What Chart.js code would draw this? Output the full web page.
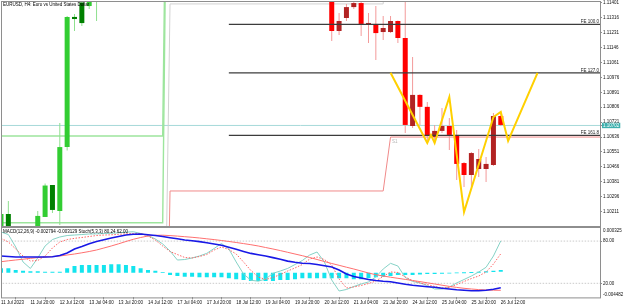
<!DOCTYPE html>
<html>
<head>
<meta charset="utf-8">
<script src="https://cdn.jsdelivr.net/npm/chart.js@4.4.1/dist/chart.umd.min.js"></script>
<style>
html,body{margin:0;padding:0;background:#ffffff;}
body{width:625px;height:307px;position:relative;overflow:hidden;}
canvas{position:absolute;left:0;}
#main{top:0;}
#pane{top:227px;}
</style>
</head>
<body>
<canvas id="main" width="625" height="227"></canvas>
<canvas id="pane" width="625" height="80"></canvas>
<script>
// ---------- DATA ----------
const symbolTitle = 'EURUSD, H4: Euro vs United States Dollar';
const paneTitle = 'MACD(12,26,9) -0.002794 -0.003129 Stoch(5,3,3) 80.24 62.00';
const timeLabels = ['11 Jul 2023','11 Jul 20:00','12 Jul 12:00','13 Jul 04:00','13 Jul 20:00','14 Jul 12:00',
  '17 Jul 04:00','17 Jul 20:00','18 Jul 12:00','19 Jul 04:00','19 Jul 20:00','20 Jul 12:00',
  '21 Jul 04:00','21 Jul 20:00','24 Jul 12:00','25 Jul 04:00','25 Jul 20:00','26 Jul 12:00'];
const priceTicks = [1.11401,1.11316,1.11231,1.11146,1.11061,1.10976,1.10891,1.10806,1.10721,1.10636,1.10551,1.10466,1.10381,1.10296,1.10211];
const priceMin = 1.101239, priceMax = 1.114107;
const bidPrice = 1.10702;

const opens  = [1.10110,1.10198,1.10110,1.10050,1.10000,1.10080,1.10181,1.10363,1.10215,1.10579,
  1.11320,1.11402,1.11382,1.11405,1.1148,1.1158,1.1176,1.1200,1.1210,1.1220,
  1.1226,1.1230,1.1228,1.1232,1.1235,1.1222,1.1215,1.1230,1.1225,1.1228,
  1.1245,1.1262,1.1255,1.1238,1.1225,1.1212,1.1220,1.1210,1.1198,1.1205,
  1.1195,1.1185,1.1168,1.1158,1.1155,1.11480,1.11240,1.11314,1.11376,1.11399,
  1.11280,1.11280,1.11234,1.11234,1.11297,1.11200,1.10699,1.10876,1.10808,1.10636,
  1.10671,1.10699,1.10648,1.10488,1.10420,1.10454,1.10454,1.10477,1.10756];
const highs  = [1.10198,1.10272,1.10118,1.10100,1.10115,1.10215,1.10372,1.10363,1.10716,1.11325,
  1.11337,1.11420,1.11460,1.11500,1.1162,1.1180,1.1205,1.1215,1.1225,1.1235,
  1.1240,1.1245,1.1236,1.1240,1.1242,1.1230,1.1235,1.1238,1.1232,1.1250,
  1.1270,1.1276,1.1262,1.1245,1.1232,1.1225,1.1228,1.1215,1.1212,1.1210,
  1.1205,1.1190,1.1175,1.1165,1.1160,1.11500,1.11342,1.11394,1.11416,1.11405,
  1.11342,1.11382,1.11325,1.11325,1.11300,1.11440,1.11092,1.10880,1.10836,1.10705,
  1.10802,1.10745,1.10676,1.10494,1.10551,1.10568,1.10523,1.10773,1.10773];
const lows   = [1.10100,1.10090,1.09980,1.09950,1.09960,1.10070,1.10181,1.10204,1.10135,1.10559,
  1.11240,1.11268,1.11365,1.11297,1.1144,1.1155,1.1172,1.1190,1.1198,1.1212,
  1.1218,1.1222,1.1220,1.1225,1.1218,1.1210,1.1212,1.1220,1.1218,1.1224,
  1.1240,1.1248,1.1232,1.1220,1.1205,1.1200,1.1205,1.1190,1.1185,1.1190,
  1.1180,1.1160,1.1150,1.1146,1.1143,1.11183,1.11217,1.11297,1.11365,1.11211,
  1.11172,1.11075,1.11189,1.11228,1.11172,1.10659,1.10688,1.10705,1.10602,1.10602,
  1.10659,1.10562,1.10392,1.10352,1.10352,1.10409,1.10380,1.10471,1.10699];
const closes = [1.10198,1.10110,1.10050,1.10000,1.10080,1.10187,1.10360,1.10221,1.10579,1.11320,
  1.11308,1.11285,1.11440,1.11480,1.1158,1.1176,1.1200,1.1210,1.1220,1.1226,
  1.1230,1.1228,1.1232,1.1235,1.1222,1.1215,1.1230,1.1225,1.1228,1.1245,
  1.1262,1.1255,1.1238,1.1225,1.1212,1.1220,1.1210,1.1198,1.1205,1.1195,
  1.1185,1.1168,1.1158,1.1155,1.1148,1.11240,1.11297,1.11376,1.11399,1.11280,
  1.11285,1.11228,1.11257,1.11297,1.11200,1.10705,1.10876,1.10808,1.10642,1.10671,
  1.10699,1.10648,1.10483,1.10420,1.10545,1.10511,1.10483,1.10756,1.10705];
const trendTurn = 23; // bars before this index are drawn in the up-trend (green) palette

// support / resistance step lines
const r1Bars = [22, 23, 52, 53];           const r1Prices = [1.0861, 1.11394, 1.11394, 1.1250];
const s1Bars = [22, 23, 52, 53, 90];       const s1Prices = [1.0800, 1.10329, 1.10329, 1.10636, 1.10636];
const gHighBars = [-1, 22, 23];            const gHighPrices = [1.10642, 1.10642, 1.1400];
const gLowBars = [-1, 22, 23];             const gLowPrices = [1.10148, 1.10148, 1.1400];

// Fibonacci expansion
const feLevels = [1.11278, 1.11002, 1.10646];
const feNames = ['FE 100.0', 'FE 127.0', 'FE 161.8'];
const feStartBar = 31;

// yellow pattern
const zigBars = [53, 58, 58.5, 59, 61, 63, 67, 68, 69, 73];
const zigPrices = [1.11002, 1.10602, 1.10648, 1.10602, 1.10864, 1.10209, 1.10750, 1.10779, 1.10614, 1.11002];

// indicator pane
const macdMax = 0.000325, macdMin = -0.004482;
const stochLevels = [80, 20];
const macdBlue = [-0.001655,-0.001689,-0.001723,-0.001723,-0.001723,-0.001723,-0.001723,-0.001703,-0.001621,-0.001450,
  -0.001177,-0.001006,-0.000815,-0.000665,-0.000549,-0.000426,-0.000324,-0.000221,-0.000167,-0.000153,
  -0.000208,-0.000255,-0.000324,-0.000406,-0.000481,-0.000563,-0.000617,-0.000672,-0.000754,-0.000836,
  -0.000925,-0.001054,-0.001198,-0.001341,-0.001478,-0.001566,-0.001655,-0.001764,-0.001880,-0.002003,
  -0.002085,-0.002147,-0.002167,-0.002236,-0.002324,-0.002406,-0.002611,-0.002884,-0.003055,-0.003157,
  -0.003260,-0.003328,-0.003383,-0.003417,-0.003499,-0.003587,-0.003656,-0.003704,-0.003751,-0.003792,
  -0.003854,-0.003908,-0.003963,-0.003997,-0.004024,-0.004024,-0.003997,-0.003929,-0.003826];
const macdRed = [-0.002044,-0.001983,-0.001928,-0.001874,-0.001819,-0.001764,-0.001723,-0.001696,-0.001655,-0.001587,
  -0.001519,-0.001437,-0.001348,-0.001245,-0.001109,-0.000972,-0.000822,-0.000665,-0.000515,-0.000392,
  -0.000290,-0.000242,-0.000235,-0.000262,-0.000296,-0.000337,-0.000378,-0.000426,-0.000481,-0.000535,
  -0.000597,-0.000665,-0.000733,-0.000808,-0.000884,-0.000972,-0.001075,-0.001177,-0.001286,-0.001402,
  -0.001519,-0.001635,-0.001758,-0.001894,-0.002031,-0.002167,-0.002290,-0.002420,-0.002543,-0.002679,
  -0.002816,-0.002932,-0.003021,-0.003103,-0.003178,-0.003253,-0.003328,-0.003403,-0.003485,-0.003567,
  -0.003649,-0.003731,-0.003799,-0.003861,-0.003908,-0.003949,-0.003977,-0.003990,-0.003997];
const histTop = [-0.002495,-0.002495,-0.002611,-0.002659,-0.002700,-0.002700,-0.002727,-0.002727,-0.002727,-0.002495,
  -0.002338,-0.002270,-0.002270,-0.002270,-0.002270,-0.002222,-0.002222,-0.002270,-0.002338,-0.002495,
  -0.002611,-0.002659,-0.002768,-0.002794,-0.002794,-0.002794,-0.002794,-0.002794,-0.002794,-0.002794,
  -0.002794,-0.002794,-0.002794,-0.002794,-0.002794,-0.002794,-0.002794,-0.002794,-0.002794,-0.002794,
  -0.002794,-0.002794,-0.002794,-0.002794,-0.002794,-0.002794,-0.002794,-0.002794,-0.002794,-0.002794,
  -0.002794,-0.002794,-0.002794,-0.002794,-0.002794,-0.002794,-0.002794,-0.002794,-0.002794,-0.002794,
  -0.002794,-0.002794,-0.002782,-0.002768,-0.002748,-0.002727,-0.002700,-0.002659,-0.002611];
const histBottom = [-0.002794,-0.002794,-0.002794,-0.002794,-0.002794,-0.002794,-0.002794,-0.002794,-0.002794,-0.002794,
  -0.002794,-0.002794,-0.002794,-0.002794,-0.002794,-0.002794,-0.002794,-0.002794,-0.002794,-0.002794,
  -0.002794,-0.002794,-0.002816,-0.002952,-0.003021,-0.003069,-0.003069,-0.003110,-0.003110,-0.003110,
  -0.003110,-0.003178,-0.003246,-0.003294,-0.003362,-0.003362,-0.003362,-0.003362,-0.003294,-0.003294,
  -0.003246,-0.003178,-0.003178,-0.003178,-0.003178,-0.003178,-0.003178,-0.003178,-0.003246,-0.003246,
  -0.003178,-0.003110,-0.003069,-0.003021,-0.002952,-0.002952,-0.002952,-0.002918,-0.002884,-0.002884,
  -0.002864,-0.002850,-0.002836,-0.002836,-0.002816,-0.002794,-0.002782,-0.002748,-0.002727];
const stochMain = [92.9,89.3,71.6,50.3,41.1,56.0,73.0,82.2,85.8,87.9,88.6,89.3,90.1,90.3,90.8,91.1,91.8,92.6,93.3,90.8,
  87.9,83.0,75.9,65.9,53.1,53.8,56.0,58.8,62.6,69.5,76.6,68.8,50.3,33.2,24.4,23.0,26.1,34.2,37.5,41.1,
  46.7,52.4,60.2,64.5,50.3,24.7,9.1,11.2,15.5,19.0,21.9,29.0,40.3,48.4,44.6,28.3,22.6,20.5,16.9,11.9,
  11.9,14.8,20.5,25.4,30.4,36.1,42.8,58.8,80.24];
const stochSignal = [83.9,78.7,68.8,58.8,51.7,52.4,58.8,70.2,78.7,82.2,83.9,85.1,86.5,87.9,88.6,88.9,89.6,90.3,90.9,90.8,
  87.2,81.5,73.0,65.2,60.9,56.7,56.0,58.1,60.9,67.3,71.6,68.0,61.6,50.3,38.2,29.0,25.4,28.3,32.5,37.5,
  41.8,46.7,54.5,57.4,53.8,46.0,26.1,13.4,14.8,16.9,19.7,23.3,29.7,36.1,35.4,29.0,24.0,20.5,18.3,15.5,
  13.4,14.1,18.3,22.6,26.8,30.4,36.1,47.4,62.0];

// ---------- RENDERING ----------
const FF = '"Liberation Sans", Arial, sans-serif';
const FS = 4.5;
const visibleBars = 81.5;
const bars = closes.map((_, i) => i);
const zip = (xs, ys) => xs.map((x, i) => ({x, y: ys[i]}));

function bodyColor(i) {
  const bull = closes[i] >= opens[i];
  if (i < trendTurn) return bull ? '#32cd32' : '#008000';
  return bull ? '#b22222' : '#ff0000';
}
function wickColor(i) { return i < trendTurn ? '#8fe08f' : '#f39a9a'; }

function lineDS(data, color, width, order, extra) {
  return Object.assign({type: 'line', data, borderColor: color, borderWidth: width, pointRadius: 0,
    fill: false, tension: 0, order, spanGaps: true}, extra || {});
}

const baseOpts = {
  responsive: false, animation: false, devicePixelRatio: 1, events: [],
  plugins: {legend: {display: false}, tooltip: {enabled: false}, title: {display: false}}
};

function borderPlugin(id, topOffset, bottomOffset) {
  return {
    id,
    afterDraw(chart) {
      const {ctx, chartArea: a} = chart;
      ctx.save();
      ctx.strokeStyle = '#8e8e8e';
      ctx.lineWidth = 1;
      ctx.strokeRect(1.5, a.top + topOffset, 599, a.bottom - a.top + bottomOffset);
      ctx.restore();
    }
  };
}

const mainDeco = {
  id: 'mainDeco',
  afterDatasetsDraw(chart) {
    const {ctx, chartArea: a, scales: {x, y}} = chart;
    ctx.save();
    ctx.font = `${FS}px ${FF}`;
    ctx.fillStyle = '#222';
    ctx.textAlign = 'right';
    ctx.textBaseline = 'alphabetic';
    feLevels.forEach((v, i) => ctx.fillText(feNames[i], a.right - 1, y.getPixelForValue(v) - 1));
    ctx.fillStyle = '#b5b5b5';
    ctx.textAlign = 'left';
    ctx.textBaseline = 'top';
    ctx.fillText('S1', x.getPixelForValue(s1Bars[3]) + 1.5, y.getPixelForValue(s1Prices[3]) + 2.5);
    ctx.fillStyle = '#000';
    ctx.textBaseline = 'middle';
    ctx.fillText(symbolTitle, 3, 4.5);
    ctx.restore();
  }
};

new Chart(document.getElementById('main'), {
  type: 'line',
  data: {datasets: [
    lineDS([{x: -1, y: bidPrice}, {x: 90, y: bidPrice}], '#a6d9d9', 1, 30),
    lineDS(zip(gHighBars, gHighPrices), '#9de59d', 1.4, 29),
    lineDS(zip(gLowBars, gLowPrices), '#9de59d', 1.4, 29),
    lineDS(zip(r1Bars, r1Prices), '#d2d2d2', 1, 28),
    lineDS(zip(s1Bars, s1Prices), '#f08a8a', 1, 28),
    {type: 'bar', data: bars.map(i => ({x: i, y: [lows[i], highs[i]]})), backgroundColor: bars.map(wickColor),
      maxBarThickness: 1, grouped: false, order: 20, inflateAmount: 0, borderWidth: 0},
    {type: 'bar', data: bars.map(i => ({x: i, y: [opens[i], closes[i]]})), backgroundColor: bars.map(bodyColor),
      maxBarThickness: 5, minBarLength: 1, grouped: false, order: 19, inflateAmount: 0, borderWidth: 0},
    ...feLevels.map(v => lineDS([{x: feStartBar, y: v}, {x: 90, y: v}], '#3c3c3c', 1.3, 5)),
    lineDS(zip(zigBars, zigPrices), '#ffd000', 2, 1)
  ]},
  options: Object.assign({}, baseOpts, {
    layout: {padding: {left: 1, top: 1, right: 0, bottom: 0}},
    scales: {
      x: {type: 'linear', min: 0, max: visibleBars, offset: false, display: false},
      y: {type: 'linear', position: 'right', min: priceMin, max: priceMax,
        afterBuildTicks: s => { s.ticks = priceTicks.map(v => ({value: v})).concat([{value: bidPrice}]); },
        afterFit: s => { s.width = 25; s.paddingTop = 0; s.paddingBottom = 0; },
        ticks: {autoSkip: false, padding: 1, font: {family: FF, size: FS},
          color: c => (c.tick && c.tick.value === bidPrice) ? '#ffffff' : '#111111',
          showLabelBackdrop: c => !!(c.tick && c.tick.value === bidPrice),
          backdropColor: '#3fb0ae', backdropPadding: {left: 1, right: 1, top: 0, bottom: 0},
          callback: v => v.toFixed(5)},
        grid: {drawOnChartArea: false, drawTicks: true, tickLength: 2, tickColor: '#8e8e8e'},
        border: {display: false}}
    }
  }),
  plugins: [mainDeco, borderPlugin('mainBorder', 0.5, -1)]
});

const paneDeco = {
  id: 'paneDeco',
  afterDatasetsDraw(chart) {
    const {ctx} = chart;
    ctx.save();
    ctx.font = `${FS}px ${FF}`;
    ctx.fillStyle = '#000';
    ctx.textAlign = 'left';
    ctx.textBaseline = 'middle';
    ctx.fillText(paneTitle, 3, 5);
    ctx.restore();
  }
};

// the pane's right-hand axis shows the stochastic levels plus the MACD range at the pane's top and bottom edges
const paneAxisTicks = [100, 80, 20, 0];
function paneAxisLabel(v) {
  if (v === 100) return ['', String(macdMax)];
  if (v === 0) return [String(macdMin), ''];
  return v.toFixed(2);
}

new Chart(document.getElementById('pane'), {
  type: 'line',
  data: {datasets: [
    ...stochLevels.map(v => lineDS([{x: -1, y: v}, {x: 90, y: v}], '#bdbdbd', 0.8, 30, {yAxisID: 's', borderDash: [1.5, 1.5]})),
    {type: 'bar', yAxisID: 'm', data: bars.map(i => ({x: i, y: [histBottom[i], histTop[i]]})), backgroundColor: '#14e4ee',
      maxBarThickness: 4, grouped: false, order: 20, inflateAmount: 0, borderWidth: 0},
    lineDS(bars.map(i => ({x: i, y: stochMain[i]})), '#86d2c6', 1, 10, {yAxisID: 's'}),
    lineDS(bars.map(i => ({x: i, y: stochSignal[i]})), '#ff6666', 1, 9, {yAxisID: 's', borderDash: [1.5, 1.5]}),
    lineDS(bars.map(i => ({x: i, y: macdRed[i]})), '#ff7070', 1, 8, {yAxisID: 'm'}),
    lineDS(bars.map(i => ({x: i, y: macdBlue[i]})), '#1818e6', 1.6, 7, {yAxisID: 'm'})
  ]},
  options: Object.assign({}, baseOpts, {
    layout: {padding: {left: 1, top: 0, right: 0, bottom: 0}},
    scales: {
      x: {type: 'linear', position: 'bottom', min: 0, max: visibleBars, offset: false,
        afterBuildTicks: s => { s.ticks = timeLabels.map((t, i) => ({value: i * 4})); },
        afterFit: s => { s.height = 9.6; s.paddingLeft = 0; s.paddingRight = 0; },
        ticks: {autoSkip: false, maxRotation: 0, minRotation: 0, align: 'start', padding: 0.5,
          font: {family: FF, size: FS}, color: '#111', callback: (v, i) => timeLabels[i]},
        grid: {drawOnChartArea: false, drawTicks: true, tickLength: 2, tickColor: '#8e8e8e'},
        border: {display: false}},
      s: {type: 'linear', position: 'right', min: 0, max: 100,
        afterBuildTicks: s => { s.ticks = paneAxisTicks.map(v => ({value: v})); },
        afterFit: s => { s.width = 25; s.paddingTop = 0; s.paddingBottom = 0; },
        ticks: {autoSkip: false, padding: 1, color: '#111',
          font: c => ({family: FF, size: FS, lineHeight: (c.tick && c.tick.value === 100) ? '8px' : '5px'}),
          callback: v => paneAxisLabel(v)},
        grid: {drawOnChartArea: false, drawTicks: true, tickLength: 2,
          tickColor: c => (c.tick && (c.tick.value === 100 || c.tick.value === 0)) ? 'rgba(0,0,0,0)' : '#8e8e8e'},
        border: {display: false}},
      m: {type: 'linear', position: 'right', min: macdMin, max: macdMax, display: false}
    }
  }),
  plugins: [paneDeco, borderPlugin('paneBorder', 0.5, 0)]
});
</script>
</body>
</html>
